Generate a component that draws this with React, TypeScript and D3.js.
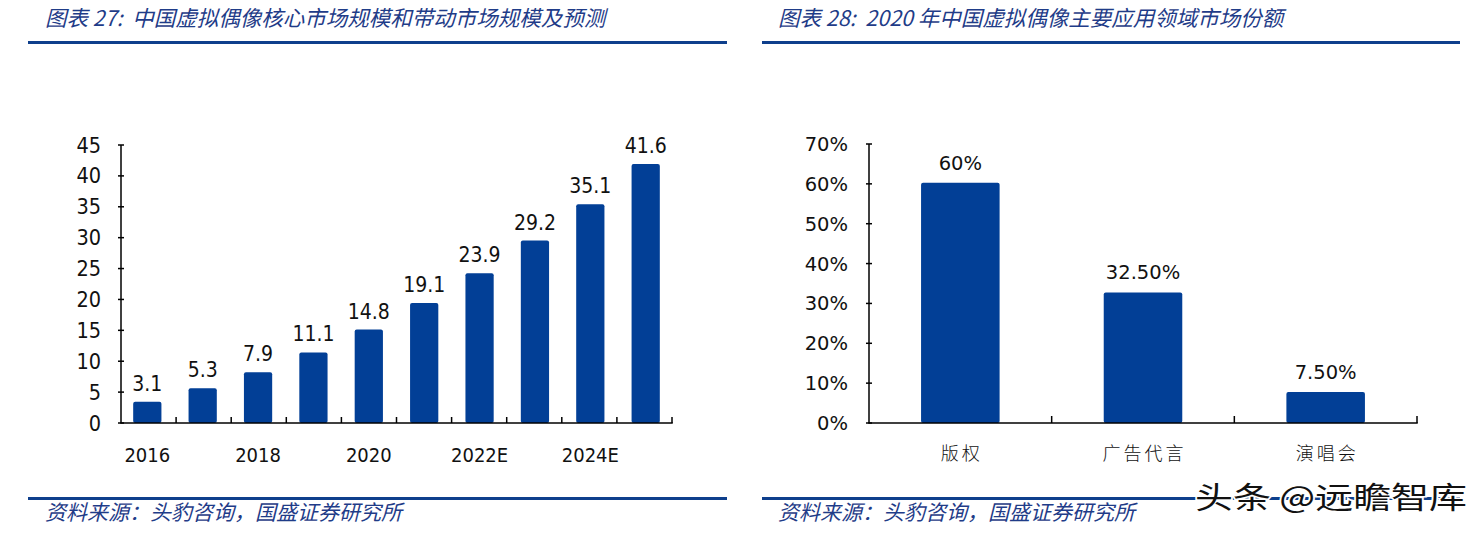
import React from "react";
import * as d3 from "d3";

const leftTitle = "图表 27:  中国虚拟偶像核心市场规模和带动市场规模及预测";
const rightTitle = "图表 28:  2020 年中国虚拟偶像主要应用领域市场份额";
const sourceText = "资料来源：头豹咨询，国盛证券研究所";
const watermark = "头条 @远瞻智库";

const years = ["2016", "2017", "2018", "2019", "2020", "2021E", "2022E", "2023E", "2024E", "2025E"];
const marketSize = [3.1, 5.3, 7.9, 11.1, 14.8, 19.1, 23.9, 29.2, 35.1, 41.6];
const leftTicks = [0, 5, 10, 15, 20, 25, 30, 35, 40, 45];

const fields = ["版权", "广告代言", "演唱会"];
const shares = [0.6, 0.325, 0.075];
const shareLabels = ["60%", "32.50%", "7.50%"];
const rightTicks = [0, 0.1, 0.2, 0.3, 0.4, 0.5, 0.6, 0.7];

const BLUE = "#023F96";
const TITLE_BLUE = "#1F3C88";
const COND_FONT = "'DejaVu Sans Condensed', 'DejaVu Sans', sans-serif";
const NUM_FONT = "'DejaVu Sans', Verdana, sans-serif";
const CJK_FONT = "'Noto Sans CJK SC', sans-serif";

export default function App() {
  // Left chart
  const lx = d3.scaleBand<string>().domain(years).range([121, 672]).paddingInner(0.49).paddingOuter(0.22);
  const ly = d3.scaleLinear().domain([0, 45]).range([423, 145]);
  const lStep = (672 - 121) / years.length;

  // Right chart
  const rx = d3.scaleBand<string>().domain(fields).range([869, 1417]).paddingInner(0.57).paddingOuter(0.285);
  const ry = d3.scaleLinear().domain([0, 0.7]).range([423, 144]);
  const rStep = (1417 - 869) / fields.length;
  const pct = d3.format(".0%");

  return (
    <svg
      width={1483}
      height={539}
      style={{ position: "absolute", left: 0, top: 0, background: "#fff" }}
    >
      {/* Titles */}
      <text x={45} y={26} fontFamily={CJK_FONT} fontStyle="italic" fontSize={21.5} fill={TITLE_BLUE} style={{ whiteSpace: "pre" }}>
        {leftTitle}
      </text>
      <text x={778} y={26} fontFamily={CJK_FONT} fontStyle="italic" fontSize={21.5} fill={TITLE_BLUE} style={{ whiteSpace: "pre" }}>
        {rightTitle}
      </text>
      <rect x={28} y={41} width={699} height={3} fill="#0E3F8C" />
      <rect x={762} y={41} width={698} height={3} fill="#0E3F8C" />

      {/* Left chart */}
      <g>
        {marketSize.map((v, i) => (
          <g key={years[i]}>
            <rect
              x={lx(years[i])!}
              y={ly(v) - 2}
              width={lx.bandwidth()}
              height={ly(0) - ly(v) + 2}
              rx={2}
              fill={BLUE}
            />
            <text
              x={lx(years[i])! + lx.bandwidth() / 2}
              y={ly(v) - 13}
              textAnchor="middle"
              fontFamily={COND_FONT}
              fontStretch="condensed"
              fontSize={21}
              fill="#111"
            >
              {v.toFixed(1)}
            </text>
          </g>
        ))}
        <line x1={121} x2={121} y1={ly(45)} y2={ly(0)} stroke="#000" strokeWidth={1.5} />
        {leftTicks.map((t) => (
          <g key={t}>
            <line x1={118} x2={124} y1={ly(t)} y2={ly(t)} stroke="#000" strokeWidth={1.5} />
            <text
              x={101}
              y={ly(t) + 7.5}
              textAnchor="end"
              fontFamily={COND_FONT}
              fontStretch="condensed"
              fontSize={21.5}
              fill="#111"
            >
              {t}
            </text>
          </g>
        ))}
        <line x1={120.25} x2={672.75} y1={ly(0)} y2={ly(0)} stroke="#000" strokeWidth={1.5} />
        {years.map((y, i) => (
          <line
            key={y}
            x1={121 + (i + 1) * lStep}
            x2={121 + (i + 1) * lStep}
            y1={ly(0)}
            y2={ly(0) - 6}
            stroke="#000"
            strokeWidth={1.5}
          />
        ))}
        {years.map((y, i) =>
          i % 2 === 0 ? (
            <text
              key={y}
              x={lx(y)! + lx.bandwidth() / 2}
              y={462}
              textAnchor="middle"
              fontFamily={COND_FONT}
              fontStretch="condensed"
              fontSize={20}
              fill="#111"
            >
              {y}
            </text>
          ) : null
        )}
      </g>

      {/* Right chart */}
      <g>
        {shares.map((v, i) => (
          <g key={fields[i]}>
            <rect
              x={rx(fields[i])!}
              y={ry(v) - 1}
              width={rx.bandwidth()}
              height={ry(0) - ry(v) + 1}
              rx={2}
              fill={BLUE}
            />
            <text
              x={rx(fields[i])! + rx.bandwidth() / 2}
              y={ry(v) - 14}
              textAnchor="middle"
              fontFamily={NUM_FONT}
              fontSize={19.5}
              fill="#111"
            >
              {shareLabels[i]}
            </text>
          </g>
        ))}
        <line x1={869} x2={869} y1={ry(0.7)} y2={ry(0)} stroke="#000" strokeWidth={1.5} />
        {rightTicks.map((t) => (
          <g key={t}>
            <line x1={866} x2={872} y1={ry(t)} y2={ry(t)} stroke="#000" strokeWidth={1.5} />
            <text x={848} y={ry(t) + 7} textAnchor="end" fontFamily={NUM_FONT} fontSize={19.5} fill="#111">
              {pct(t)}
            </text>
          </g>
        ))}
        <line x1={868.25} x2={1417.75} y1={ry(0)} y2={ry(0)} stroke="#000" strokeWidth={1.5} />
        {fields.map((f, i) => (
          <line
            key={f}
            x1={869 + (i + 1) * rStep}
            x2={869 + (i + 1) * rStep}
            y1={ry(0)}
            y2={ry(0) - 7}
            stroke="#000"
            strokeWidth={1.5}
          />
        ))}
        {fields.map((f) => (
          <text
            key={f}
            x={rx(f)! + rx.bandwidth() / 2 + 1.5}
            y={460}
            textAnchor="middle"
            fontFamily={CJK_FONT}
            fontSize={18}
            fontWeight={300}
            letterSpacing={3}
            fill="#111"
          >
            {f}
          </text>
        ))}
      </g>

      {/* Footer */}
      <rect x={28} y={497} width={699} height={3} fill="#0E3F8C" />
      <rect x={762} y={497} width={698} height={3} fill="#0E3F8C" />
      <text x={45} y={520} fontFamily={CJK_FONT} fontStyle="italic" fontSize={21} fill={TITLE_BLUE}>
        {sourceText}
      </text>
      <text x={778} y={520} fontFamily={CJK_FONT} fontStyle="italic" fontSize={21} fill={TITLE_BLUE}>
        {sourceText}
      </text>
      <text
        x={1195}
        y={508}
        fontFamily={CJK_FONT}
        fontSize={30}
        textLength={272}
        lengthAdjust="spacingAndGlyphs"
        fill="#111"
        stroke="#fff"
        strokeWidth={3}
        paintOrder="stroke"
      >
        {watermark}
      </text>
    </svg>
  );
}
